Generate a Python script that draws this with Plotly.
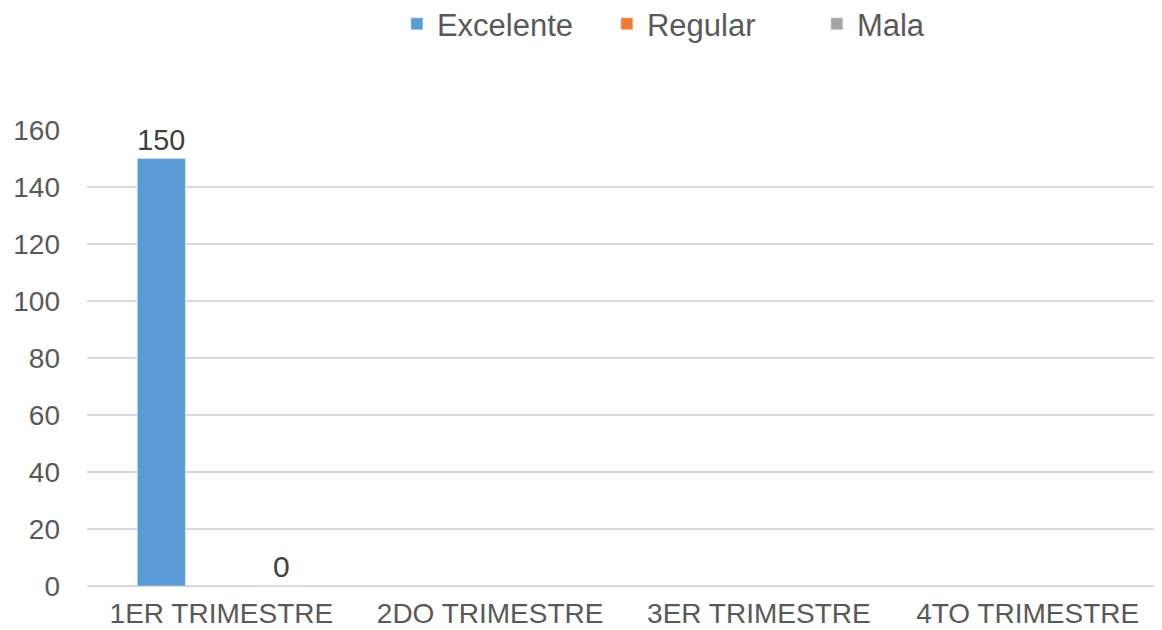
import plotly.graph_objects as go

categories = ["1ER TRIMESTRE", "2DO TRIMESTRE", "3ER TRIMESTRE", "4TO TRIMESTRE"]
excelente = [150, None, None, None]
regular = [None, None, None, None]
mala = [0, None, None, None]
series_names = ["Excelente", "Regular", "Mala"]
colors = ["#5B9BD5", "#ED7D31", "#A5A5A5"]
y_ticks = [0, 20, 40, 60, 80, 100, 120, 140, 160]


def labels(vals):
    return ["" if v is None else str(v) for v in vals]


fig = go.Figure()
for name, vals, col in zip(series_names, [excelente, regular, mala], colors):
    fig.add_trace(go.Bar(
        name=name, x=categories, y=vals, marker_color=col,
        text=labels(vals), textposition="outside", cliponaxis=False,
        textfont=dict(size=30, color="#404040", family="Liberation Sans"),
    ))

fig.update_layout(
    width=1154, height=622,
    barmode="group", bargap=0.33, bargroupgap=0.2,
    plot_bgcolor="white", paper_bgcolor="white",
    margin=dict(l=79, r=0, t=122, b=44, autoexpand=False),
    font=dict(family="Liberation Sans", color="#595959"),
    legend=dict(orientation="h", xref="container", yref="container",
                x=0.337, xanchor="left", y=0.974, yanchor="middle",
                font=dict(size=31, color="#595959"), entrywidth=165),
    showlegend=True,
)
fig.update_yaxes(range=[0, 160], tickvals=y_ticks, showgrid=True, gridcolor="#D9D9D9",
                 gridwidth=1.5, zeroline=True, zerolinecolor="#D9D9D9", zerolinewidth=1.5,
                 tickfont=dict(size=28, color="#595959"), ticklabelstandoff=26,
                 automargin=False)
fig.update_xaxes(tickfont=dict(size=28, color="#595959"), showline=False, automargin=False,
                 ticklabelstandoff=8)

fig.write_html("out.html")
